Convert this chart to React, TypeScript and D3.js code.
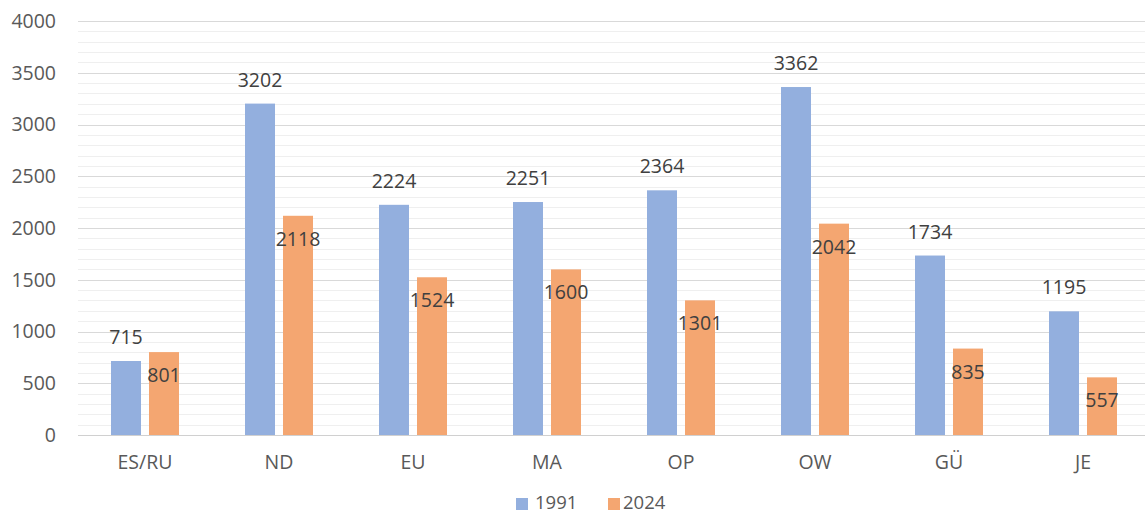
import React from "react";
import * as d3 from "d3";

const categories = ["ES/RU", "ND", "EU", "MA", "OP", "OW", "GÜ", "JE"];
const values1991 = [715, 3202, 2224, 2251, 2364, 3362, 1734, 1195];
const values2024 = [801, 2118, 1524, 1600, 1301, 2042, 835, 557];
const seriesNames = ["1991", "2024"];
const yTicks = [0, 500, 1000, 1500, 2000, 2500, 3000, 3500, 4000];

const W = 1145;
const H = 515;
const FONT = "'Open Sans', 'Noto Sans', sans-serif";
const BLUE = "#93AFDE";
const ORANGE = "#F4A671";

export default function App() {
  const x = d3.scaleBand<string>().domain(categories).range([78, 1150]);
  const y = d3.scaleLinear().domain([0, 4000]).range([435, 21]);
  const minor = d3.range(0, 4001, 100).filter((v) => v % 500 !== 0);
  const barW = 30;
  const gap = 8;

  return (
    <svg
      width={W}
      height={H}
      style={{ position: "absolute", left: 0, top: 0, display: "block", background: "#fff" }}
      fontFamily={FONT}
    >
      {minor.map((v) => (
        <line key={"m" + v} x1={78} x2={W} y1={Math.round(y(v)) + 0.5} y2={Math.round(y(v)) + 0.5} stroke="#efefef" strokeWidth={1} />
      ))}
      {yTicks.map((v) => (
        <g key={"t" + v}>
          <line x1={78} x2={W} y1={Math.round(y(v)) + 0.5} y2={Math.round(y(v)) + 0.5} stroke={v === 0 ? "#d0d0d0" : "#d9d9d9"} strokeWidth={1} />
          <text x={56} y={y(v)} dy="0.35em" textAnchor="end" fontSize={19.5} fill="#595959">
            {v}
          </text>
        </g>
      ))}
      {categories.map((c, i) => {
        const cx = (x(c) as number) + x.bandwidth() / 2;
        const bx1 = cx - gap / 2 - barW;
        const bx2 = cx + gap / 2;
        const v1 = values1991[i];
        const v2 = values2024[i];
        return (
          <g key={c}>
            <rect x={bx1} y={y(v1)} width={barW} height={y(0) - y(v1)} fill={BLUE} />
            <rect x={bx2} y={y(v2)} width={barW} height={y(0) - y(v2)} fill={ORANGE} />
            <text x={bx1 + barW / 2} y={y(v1) - 17} textAnchor="middle" fontSize={19.5} fill="#404040">
              {v1}
            </text>
            <text x={bx2 + barW / 2} y={y(v2) + 30} textAnchor="middle" fontSize={19.5} fill="#404040">
              {v2}
            </text>
            <text x={cx} y={469} textAnchor="middle" fontSize={19.5} fill="#595959">
              {c}
            </text>
          </g>
        );
      })}
      <g>
        <rect x={516} y={498} width={12} height={12} fill={BLUE} />
        <text x={535} y={509} fontSize={18.5} fill="#595959">{seriesNames[0]}</text>
        <rect x={608} y={498} width={12} height={12} fill={ORANGE} />
        <text x={623} y={509} fontSize={18.5} fill="#595959">{seriesNames[1]}</text>
      </g>
    </svg>
  );
}
